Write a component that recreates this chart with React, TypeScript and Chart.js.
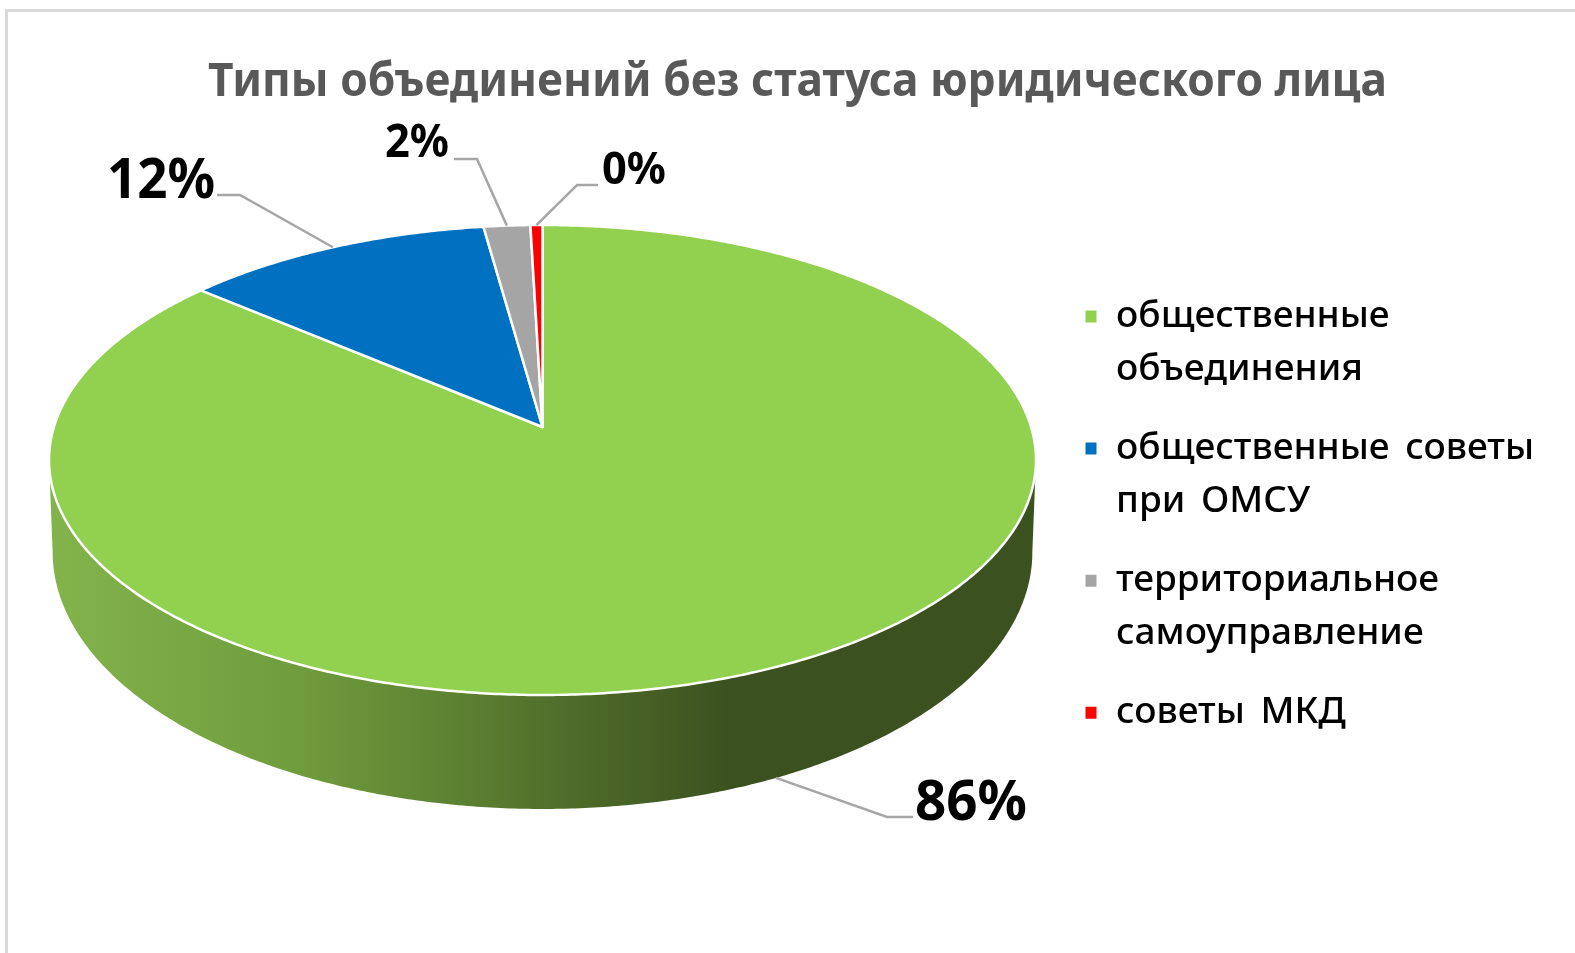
import React, { useEffect, useRef } from "react";
import { Chart, registerables } from "chart.js";

Chart.register(...registerables);

const titleText = "Типы объединений без статуса юридического лица";
const categories = [
  ["общественные", "объединения"],
  ["общественные советы", "при ОМСУ"],
  ["территориальное", "самоуправление"],
  ["советы МКД"],
];
const shares = [86.2, 11.6, 1.75, 0.45];
const sliceColors = ["#92D050", "#0070C0", "#A5A5A5", "#FF0000"];

const FONT = "'Noto Sans', sans-serif";

// perspective of the disc: top face and bottom rim
const CX = 542.5;
const top = { R: 488.6, k: -0.1404, a: 170.4, b: 427 };
const rim = { R: 485, k: -0.1404, a: 179.5, b: 515.9 };
type P = typeof top;
const proj = (p: P, ang: number): [number, number] => {
  const u = Math.cos(ang);
  const v = Math.sin(ang);
  const w = 1 + p.k * v;
  return [CX + (p.R * u) / w, (p.a * v + p.b) / w];
};
const SIDE_FROM = 0.14;
const SIDE_TO = Math.PI - 0.14;

// per-slice label layout: text box (centre, font size, width), elbow of the leader
const labelLayout = [
  { cx: 971, cy: 804, size: 55, w: 112, ex: 887, ey: 817, sx: 913, onRim: true },
  { cx: 161, cy: 182, size: 55, w: 108, ex: 240, ey: 195, sx: 217, onRim: false },
  { cx: 417, cy: 144, size: 46, w: 64, ex: 477, ey: 159, sx: 454, onRim: false },
  { cx: 634, cy: 171, size: 44, w: 64, ex: 577, ey: 185, sx: 598, onRim: false },
];

const pie3d = {
  id: "pie3d",
  afterLayout(chart: any) {
    const t = chart.titleBlock;
    t.left = 208;
    t.right = 1387;
    t.top = 55;
    t.bottom = 110;
    const l = chart.legend;
    l.left = 1057.5;
    l.right = 1575;
    l.top = 271;
    l.bottom = 953;
    if (!l.__spaced) {
      l.__spaced = true;
      const draw = l.draw;
      l.draw = function (...args: any[]) {
        chart.ctx.wordSpacing = "6px";
        draw.apply(this, args);
        chart.ctx.wordSpacing = "0px";
      };
    }
  },
  beforeDraw(chart: any) {
    const c = chart.ctx;
    c.save();
    c.fillStyle = "#D9D9D9";
    c.fillRect(5, 9, 1570, 3);
    c.fillRect(5, 9, 3, 944);
    c.restore();
  },
  beforeDatasetDraw(chart: any) {
    const c = chart.ctx;
    const arcs = chart.getDatasetMeta(0).data;
    const grad = c.createLinearGradient(49, 0, 1036, 0);
    grad.addColorStop(0.02, "#82B24A");
    grad.addColorStop(0.254, "#6F9C3D");
    grad.addColorStop(0.437, "#5A7D30");
    grad.addColorStop(0.558, "#4B6727");
    grad.addColorStop(0.69, "#3B5220");
    grad.addColorStop(1, "#3B5220");
    c.save();
    // side wall
    arcs.forEach((arc: any) => {
      const s = Math.max(arc.startAngle, SIDE_FROM);
      const e = Math.min(arc.endAngle, SIDE_TO);
      if (e <= s) return;
      const n = Math.max(2, Math.ceil((e - s) * 120));
      c.beginPath();
      for (let i = 0; i <= n; i++) {
        const [x, y] = proj(top, s + ((e - s) * i) / n);
        i ? c.lineTo(x, y) : c.moveTo(x, y);
      }
      for (let i = n; i >= 0; i--) {
        const [x, y] = proj(rim, s + ((e - s) * i) / n);
        c.lineTo(x, y);
      }
      c.closePath();
      c.fillStyle = grad;
      c.fill();
    });
    // top face
    arcs.forEach((arc: any, i: number) => {
      const s = arc.startAngle;
      const e = arc.endAngle;
      const n = Math.max(2, Math.ceil((e - s) * 120));
      c.beginPath();
      c.moveTo(CX, top.b);
      for (let j = 0; j <= n; j++) {
        const [x, y] = proj(top, s + ((e - s) * j) / n);
        c.lineTo(x, y);
      }
      c.closePath();
      c.fillStyle = sliceColors[i];
      c.fill();
      c.strokeStyle = "#FFFFFF";
      c.lineWidth = 2.5;
      c.lineJoin = "round";
      c.stroke();
    });
    c.restore();
    return false;
  },
  afterDatasetsDraw(chart: any) {
    const c = chart.ctx;
    const arcs = chart.getDatasetMeta(0).data;
    const total = shares.reduce((a, b) => a + b, 0);
    c.save();
    arcs.forEach((arc: any, i: number) => {
      const L = labelLayout[i];
      const mid = (arc.startAngle + arc.endAngle) / 2;
      const [px, py] = proj(L.onRim ? rim : top, mid);
      c.beginPath();
      c.moveTo(px, py);
      c.lineTo(L.ex, L.ey);
      c.lineTo(L.sx, L.ey);
      c.strokeStyle = "#A6A6A6";
      c.lineWidth = 2.5;
      c.stroke();
      c.font = `bold ${L.size}px ${FONT}`;
      c.fillStyle = "#000000";
      c.textAlign = "center";
      c.textBaseline = "middle";
      c.fillText(`${Math.round((shares[i] / total) * 100)}%`, L.cx, L.cy, L.w);
    });
    c.restore();
  },
};

export default function App() {
  const ref = useRef<HTMLCanvasElement>(null);
  useEffect(() => {
    const chart = new Chart(ref.current!, {
      type: "pie",
      data: {
        labels: categories as any,
        datasets: [{ data: shares, backgroundColor: sliceColors, borderColor: "#FFFFFF", borderWidth: 2 }],
      },
      options: {
        responsive: false,
        animation: false,
        plugins: {
          tooltip: { enabled: false },
          title: {
            display: true,
            text: titleText,
            color: "#595959",
            padding: 0,
            font: { family: FONT, size: 46, weight: "bold", lineHeight: 1.2 },
          },
          legend: {
            display: true,
            position: "right",
            align: "start",
            labels: {
              color: "#000000",
              boxWidth: 13,
              boxHeight: 14,
              padding: 27,
              font: { family: FONT, size: 37, weight: "500", lineHeight: 1.42 },
            },
          },
        },
      },
      plugins: [pie3d as any],
    });
    return () => chart.destroy();
  }, []);
  return (
    <div style={{ position: "absolute", left: 0, top: 0, width: 1575, height: 953, background: "#fff" }}>
      <canvas ref={ref} width={1575} height={953} style={{ display: "block", filter: "blur(0.5px)" }} />
    </div>
  );
}
